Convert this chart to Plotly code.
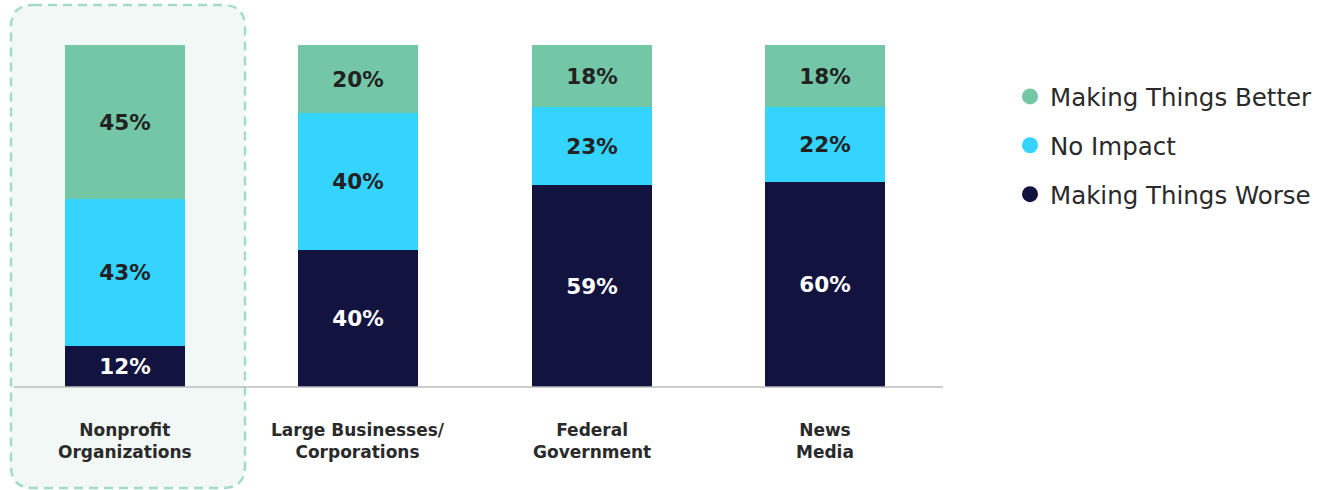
import plotly.graph_objects as go

categories = ["Nonprofit<br>Organizations", "Large Businesses/<br>Corporations",
              "Federal<br>Government", "News<br>Media"]
worse = [12, 40, 59, 60]
no_impact = [43, 40, 23, 22]
better = [45, 20, 18, 18]

series = [
    ("Making Things Worse", worse, "#131340", "white"),
    ("No Impact", no_impact, "#34D4FF", "#222222"),
    ("Making Things Better", better, "#74C7A6", "#222222"),
]

FONT = "DejaVu Sans"
fig = go.Figure()

for name, vals, color, tcolor in series:
    fig.add_trace(go.Bar(
        x=categories, y=vals, name=name, marker=dict(color=color, line=dict(width=0)),
        width=0.514, text=[f"{v}%" for v in vals], textposition="inside",
        insidetextanchor="middle", textangle=0,
        textfont=dict(family=FONT, size=21.5, color=tcolor, weight=700),
        showlegend=False, hoverinfo="skip",
    ))

# legend entries with round markers, listed top to bottom
for name, vals, color, tcolor in reversed(series):
    fig.add_trace(go.Scatter(
        x=[None], y=[None], mode="markers", name=name, legendgroup=name,
        marker=dict(symbol="circle", size=17, color=color),
    ))

# highlight frame around the first category
W, H = 1330, 490
l, r, t, b = 8, 388, 45, 103
pw, ph = W - l - r, H - t - b


def px(xp):
    return (xp - l) / pw


def py(yp):
    return (H - b - yp) / ph


x0, x1, y0, y1, rad = 11, 245, 5, 488, 22
rx, ry = rad / pw, rad / ph
X0, X1, Y0, Y1 = px(x0), px(x1), py(y1), py(y0)
path = (f"M{X0 + rx},{Y1} L{X1 - rx},{Y1} Q{X1},{Y1} {X1},{Y1 - ry} "
        f"L{X1},{Y0 + ry} Q{X1},{Y0} {X1 - rx},{Y0} L{X0 + rx},{Y0} "
        f"Q{X0},{Y0} {X0},{Y0 + ry} L{X0},{Y1 - ry} Q{X0},{Y1} {X0 + rx},{Y1} Z")
fig.add_shape(type="path", path=path, xref="paper", yref="paper",
              fillcolor="#F2F8F6", line=dict(color="#A3DCC6", width=2.5, dash="9px,6px"),
              layer="below")

# baseline
fig.add_shape(type="line", xref="paper", yref="paper", x0=px(14), x1=px(943), y0=0, y1=0,
              line=dict(color="#BDBDBD", width=1.5), layer="above")

# category labels below the baseline
for c in categories:
    fig.add_annotation(x=c, y=py(418), xref="x", yref="paper", text=c, showarrow=False,
                       yanchor="top", xanchor="center", align="center",
                       font=dict(family=FONT, size=17, color="#2a2a2a", weight=700))

fig.update_layout(
    width=W, height=H, margin=dict(l=l, r=r, t=t, b=b),
    barmode="stack", bargap=0,
    paper_bgcolor="white", plot_bgcolor="rgba(0,0,0,0)",
    xaxis=dict(showticklabels=False, showgrid=False, zeroline=False, showline=False,
               range=[-0.5, 3.5], fixedrange=True),
    yaxis=dict(range=[0, 100], visible=False, fixedrange=True),
    legend=dict(x=px(1010), y=py(74), xanchor="left", yanchor="top",
                font=dict(family=FONT, size=24.5, color="#2a2a2a"),
                tracegroupgap=14, traceorder="grouped", bgcolor="rgba(0,0,0,0)"),
    showlegend=True,
)

fig.write_html("out.html")
